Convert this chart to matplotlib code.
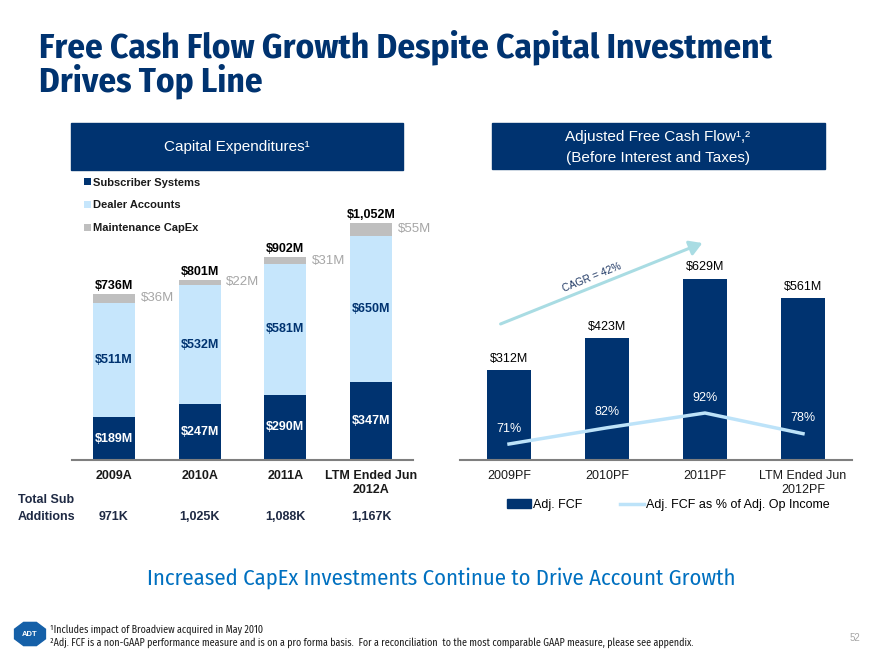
import matplotlib
matplotlib.use("Agg")
import matplotlib.pyplot as plt
import matplotlib.transforms as mtransforms
from matplotlib.patches import Rectangle, RegularPolygon, FancyArrowPatch
from matplotlib.lines import Line2D

# ---------------- data ----------------
capex_years = ["2009A", "2010A", "2011A", "LTM Ended Jun\n2012A"]
subscriber_systems = [189, 247, 290, 347]
dealer_accounts = [511, 532, 581, 650]
maintenance_capex = [36, 22, 31, 55]
capex_totals = [736, 801, 902, 1052]
sub_additions = ["971K", "1,025K", "1,088K", "1,167K"]

fcf_years = ["2009PF", "2010PF", "2011PF", "LTM Ended Jun\n2012PF"]
adj_fcf = [312, 423, 629, 561]
fcf_pct = [71, 82, 92, 78]

NAVY = "#003370"
LIGHT = "#C6E6FC"
GRAY = "#BFBFBF"
LINE = "#BDE3F9"
TEAL = "#A9DCE3"
BODY = ["Liberation Sans", "DejaVu Sans"]
NARROW = ["Fira Sans Condensed", "Roboto Condensed", "Liberation Sans", "DejaVu Sans"]

plt.rcParams["font.family"] = BODY

W, H = 880, 660
fig = plt.figure(figsize=(8.8, 6.6), dpi=100)


def fx(x):
    return x / W


def fy(y):
    return 1 - y / H


# ---------------- titles ----------------
fig.text(fx(39), fy(47), "Free Cash Flow Growth Despite Capital Investment",
         family=NARROW, weight="bold", fontsize=25.3, color=NAVY, va="center", ha="left")
fig.text(fx(39), fy(81), "Drives Top Line",
         family=NARROW, weight="bold", fontsize=25.3, color=NAVY, va="center", ha="left")

# header boxes
fig.patches.append(Rectangle((fx(71), fy(170)), fx(403 - 71), (170 - 123) / H,
                             transform=fig.transFigure, color=NAVY, zorder=0))
fig.text(fx(237), fy(147), "Capital Expenditures¹", color="white", fontsize=11,
         ha="center", va="center")
fig.patches.append(Rectangle((fx(492), fy(169)), fx(825 - 492), (169 - 123) / H,
                             transform=fig.transFigure, color=NAVY, zorder=0))
fig.text(fx(658), fy(137), "Adjusted Free Cash Flow¹,²", color="white", fontsize=11,
         ha="center", va="center")
fig.text(fx(658), fy(158), "(Before Interest and Taxes)", color="white", fontsize=11,
         ha="center", va="center")

# ---------------- left chart ----------------
ax1 = fig.add_axes([fx(72), fy(460), fx(413 - 72), (460 - 170) / H])
x = list(range(len(capex_years)))
bw = 0.49
b1 = ax1.bar(x, subscriber_systems, bw, color=NAVY, label="Subscriber Systems")
b2 = ax1.bar(x, dealer_accounts, bw, bottom=subscriber_systems, color=LIGHT,
             label="Dealer Accounts")
bottom3 = [a + b for a, b in zip(subscriber_systems, dealer_accounts)]
b3 = ax1.bar(x, maintenance_capex, bw, bottom=bottom3, color=GRAY,
             label="Maintenance CapEx")
ax1.set_xlim(-0.49, 3.49)
ax1.set_ylim(0, 290 / 0.225)

for i in x:
    ax1.text(i, subscriber_systems[i] / 2, f"${subscriber_systems[i]}M", color="white",
             fontsize=9, weight="bold", ha="center", va="center")
    ax1.text(i, subscriber_systems[i] + dealer_accounts[i] / 2, f"${dealer_accounts[i]}M",
             color=NAVY, fontsize=9, weight="bold", ha="center", va="center")
    ax1.annotate(f"${maintenance_capex[i]}M", (i + bw / 2, bottom3[i] + maintenance_capex[i] / 2),
                 xytext=(4, 0), textcoords="offset points", color="#A6A6A6",
                 fontsize=9.5, ha="left", va="center")
    ax1.annotate(f"${capex_totals[i]:,}M", (i, capex_totals[i]), xytext=(0, 1.5),
                 textcoords="offset points", color="black", fontsize=9, weight="bold",
                 ha="center", va="bottom")

ax1.set_xticks(x)
ax1.set_xticklabels(capex_years, fontsize=9, weight="bold", color="#1A1A1A")
ax1.tick_params(axis="x", length=0, pad=7)
ax1.set_yticks([])
for s in ["top", "right", "left"]:
    ax1.spines[s].set_visible(False)
ax1.spines["bottom"].set_color("#7F7F7F")
ax1.spines["bottom"].set_linewidth(1.5)
ax1.patch.set_alpha(0)

leg1 = ax1.legend(handles=[b1, b2, b3], loc="upper left",
                  bbox_to_anchor=(fx(84), fy(177.5)), bbox_transform=fig.transFigure,
                  frameon=False, fontsize=8, handlelength=0.6, handleheight=0.6,
                  handletextpad=0.25, labelspacing=1.15, borderpad=0, borderaxespad=0)
for t in leg1.get_texts():
    t.set_weight("bold")
    t.set_color("#1A1A1A")

blend1 = mtransforms.blended_transform_factory(ax1.transData, fig.transFigure)
for i in x:
    ax1.text(i, fy(517), sub_additions[i], transform=blend1, fontsize=9, weight="bold",
             color="#1F2A44", ha="center", va="center")
fig.text(fx(18), fy(500), "Total Sub", fontsize=9, weight="bold", color="#1F2A44",
         ha="left", va="center")
fig.text(fx(18), fy(517), "Additions", fontsize=9, weight="bold", color="#1F2A44",
         ha="left", va="center")

# ---------------- right chart ----------------
ax2 = fig.add_axes([fx(460), fy(460), fx(852 - 460), (460 - 170) / H])
bw2 = 0.45
bars = ax2.bar(x, adj_fcf, bw2, color=NAVY, label="Adj. FCF")
ax2.set_xlim(-0.5, 3.5)
ax2.set_ylim(0, 290 / 0.288)
for i in x:
    ax2.annotate(f"${adj_fcf[i]}M", (i, adj_fcf[i]), xytext=(0, 4),
                 textcoords="offset points", color="black", fontsize=9,
                 ha="center", va="bottom")
ax2.set_xticks(x)
ax2.set_xticklabels(fcf_years, fontsize=9, color="#1A1A1A")
ax2.tick_params(axis="x", length=0, pad=7)
ax2.set_yticks([])
for s in ["top", "right", "left"]:
    ax2.spines[s].set_visible(False)
ax2.spines["bottom"].set_color("#7F7F7F")
ax2.spines["bottom"].set_linewidth(1.5)

ax3 = ax2.twinx()
ppx = 1.476
ax3.set_ylim(71 - (460 - 444) / ppx, 71 + (444 - 170) / ppx)
line, = ax3.plot(x, fcf_pct, color=LINE, lw=2.5, label="Adj. FCF as % of Adj. Op Income")
for i in x:
    ax3.annotate(f"{fcf_pct[i]}%", (i, fcf_pct[i]), xytext=(0, 11),
                 textcoords="offset points", color="white", fontsize=9,
                 ha="center", va="center")
ax3.set_yticks([])
for s in ["top", "right", "left", "bottom"]:
    ax3.spines[s].set_visible(False)

leg_handles = [Rectangle((0, 0), 1, 1, color=NAVY),
               Line2D([0], [0], color=LINE, lw=2.5)]
leg2 = ax2.legend(leg_handles, ["Adj. FCF", "Adj. FCF as % of Adj. Op Income"],
                  loc="center left", bbox_to_anchor=(fx(507), fy(505)),
                  bbox_transform=fig.transFigure, ncol=2, frameon=False, fontsize=9,
                  handlelength=1.9, handleheight=0.7, handletextpad=0.2,
                  columnspacing=3.0, borderpad=0, borderaxespad=0)

# CAGR arrow
arr = FancyArrowPatch((fx(498), fy(325)), (fx(705), fy(242)), transform=fig.transFigure,
                      arrowstyle="-|>,head_length=5,head_width=3", color=TEAL, lw=2.2,
                      mutation_scale=1.5)
fig.patches.append(arr)
fig.text(fx(592), fy(277), "CAGR = 42%", rotation=22, color="#1F3864", fontsize=7.5,
         ha="center", va="center", rotation_mode="anchor")

# ---------------- bottom ----------------
fig.text(fx(441), fy(578), "Increased CapEx Investments Continue to Drive Account Growth",
         family=NARROW, fontsize=16.3, color="#0070C0", ha="center", va="center")
fig.text(fx(50), fy(630), "¹Includes impact of Broadview acquired in May 2010",
         family=NARROW, fontsize=7.2, color="#1A1A1A", ha="left", va="center")
fig.text(fx(50), fy(643),
         "²Adj. FCF is a non-GAAP performance measure and is on a pro forma basis.  "
         "For a reconciliation  to the most comparable GAAP measure, please see appendix.",
         family=NARROW, fontsize=7.2, color="#1A1A1A", ha="left", va="center")
fig.text(fx(855), fy(638), "52", fontsize=7, color="#A6A6A6", ha="center", va="center")
logo = RegularPolygon((fx(30), fy(634)), numVertices=8, radius=0.019,
                      orientation=0.3927, transform=fig.transFigure, color="#1560A8")
fig.patches.append(logo)
fig.text(fx(30), fy(634), "ADT", color="white", fontsize=5.5, weight="bold",
         ha="center", va="center")

fig.savefig("out.png", dpi=100)
